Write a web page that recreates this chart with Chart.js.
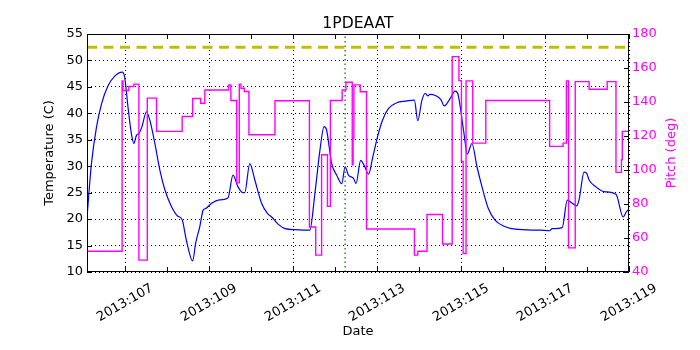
<!DOCTYPE html>
<html>
<head>
<meta charset="utf-8">
<script src="https://cdn.jsdelivr.net/npm/chart.js@4"></script>
<style>
  body { margin: 0; background: #fff; }
  #wrap { width: 700px; height: 350px; }
</style>
</head>
<body>
<div id="wrap"><canvas id="pitch_graph" width="700" height="350"></canvas></div>
<script>
// temperature (C) vs day of year 2013
var tempDays = [106.10, 106.20, 106.32, 106.44, 106.60, 106.75, 106.93, 106.99, 107.07, 107.15,
  107.21, 107.27, 107.33, 107.40, 107.51, 107.59, 107.71, 107.83, 107.95, 108.11,
  108.25, 108.36, 108.46, 108.61, 108.68, 108.78, 108.86, 108.92, 109.06, 109.22,
  109.45, 109.57, 109.69, 109.81, 109.85, 109.97, 110.09, 110.25, 110.40, 110.49,
  110.65, 110.81, 111.05, 111.40, 111.52, 111.64, 111.74, 111.80, 111.92, 112.04,
  112.16, 112.24, 112.32, 112.44, 112.50, 112.61, 112.69, 112.80, 112.89, 113.01,
  113.13, 113.27, 113.47, 113.67, 113.89, 113.97, 114.07, 114.15, 114.21, 114.26,
  114.52, 114.60, 114.74, 114.86, 114.92, 115.06, 115.15, 115.26, 115.38, 115.50,
  115.65, 115.81, 116.01, 116.29, 116.89, 117.11, 117.17, 117.41, 117.53, 117.65,
  117.75, 117.81, 117.93, 117.99, 118.05, 118.21, 118.41, 118.69, 118.86, 118.94, 119.00];
var temps = [21.0, 30.5, 37.4, 41.8, 45.3, 47.0, 47.8, 46.9, 41.2, 36.2,
  34.3, 35.8, 36.2, 37.4, 40.3, 38.7, 34.3, 29.2, 25.5, 22.3,
  20.6, 19.9, 16.0, 12.1, 15.4, 18.6, 21.7, 22.0, 23.0, 23.6,
  24.0, 28.3, 26.1, 25.0, 25.0, 30.5, 27.4, 23.0, 21.0, 20.4,
  19.0, 18.2, 18.0, 17.9, 24.8, 33.0, 37.5, 36.8, 30.5, 28.3,
  26.7, 29.9, 28.3, 27.7, 26.7, 31.1, 30.2, 28.5, 31.4, 35.5,
  38.7, 40.9, 42.0, 42.3, 42.5, 38.6, 42.5, 43.8, 43.3, 43.6,
  42.6, 41.4, 42.8, 44.2, 43.8, 36.8, 32.3, 34.3, 29.9, 26.1,
  22.0, 19.8, 18.7, 18.1, 17.9, 17.8, 18.2, 18.4, 23.6, 23.0,
  22.5, 23.6, 28.9, 28.7, 27.4, 26.1, 25.2, 24.7, 20.4, 21.4, 21.9];

// pitch (deg), each value holds until the next day entry
var pitchDays = [106.094, 106.93, 106.95, 107.09, 107.21, 107.33, 107.53, 107.75,
  108.36, 108.61, 108.80, 108.90, 109.47, 109.52, 109.66, 109.72, 109.76, 109.84, 109.95,
  110.57, 111.39, 111.54, 111.68, 111.82, 111.89, 112.17, 112.26, 112.41, 112.43, 112.45,
  112.60, 112.75, 113.89, 113.97, 114.19, 114.56,
  114.79, 114.95, 115.01, 115.05, 115.12, 115.28, 115.59,
  117.11, 117.43, 117.51, 117.56, 117.72, 118.05, 118.48, 118.69, 118.82, 118.84, 119.0];
var pitches = [52.2, 152.4, 146.8, 149.1, 150.5, 47.0, 142.3, 122.7,
  131.5, 142.1, 139.3, 147.1, 150.1, 140.9, 92.4, 150.5, 148.1, 146.2, 120.7,
  140.7, 66.5, 49.9, 109.0, 78.6, 140.9, 147.1, 151.6, 103.1, 118.8, 150.1,
  146.0, 65.3, 49.9, 52.2, 73.8, 56.5,
  166.7, 152.6, 105.1, 50.9, 152.4, 115.8, 140.9,
  113.9, 115.8, 152.4, 54.2, 152.0, 147.5, 152.0, 98.6, 106.0, 122.7, 122.7];

var dayMin = 106.094;
var dayMax = 119;
var tempLimit = 52.5;
var eventDay = 112.24;
var tempTicks = [10, 55, 5];
var pitchTicks = [40, 180, 20];
var titleText = "1PDEAAT";
var pitchLabel = "Pitch (deg)";
var yearPrefix = "2013:";

var FONT = "'DejaVu Sans', sans-serif";

function pairs(xs, ys) {
  var out = [];
  for (var i in xs) out.push({x: xs[i], y: ys[i]});
  return out;
}

// frame, inward ticks, title and rotated date labels like matplotlib
var decor = {
  id: 'decor',
  afterDatasetsDraw: function(chart) {
    var ctx = chart.ctx, a = chart.chartArea;
    var xs = chart.scales.x, yl = chart.scales.y, yr = chart.scales.y2;
    var tl = 5;
    ctx.save();
    ctx.strokeStyle = '#000';
    ctx.lineWidth = 1;
    ctx.strokeRect(Math.round(a.left) + 0.5, Math.round(a.top) + 0.5,
      Math.round(a.right - a.left) - 1, Math.round(a.bottom - a.top) - 1);
    ctx.beginPath();
    xs.ticks.forEach(function(t) {
      var px = Math.round(xs.getPixelForValue(t.value)) + 0.5;
      ctx.moveTo(px, a.bottom); ctx.lineTo(px, a.bottom - tl);
      ctx.moveTo(px, a.top); ctx.lineTo(px, a.top + tl);
    });
    yl.ticks.forEach(function(t) {
      var py = Math.round(yl.getPixelForValue(t.value)) + 0.5;
      ctx.moveTo(a.left, py); ctx.lineTo(a.left + tl, py);
    });
    yr.ticks.forEach(function(t) {
      var py = Math.round(yr.getPixelForValue(t.value)) + 0.5;
      ctx.moveTo(a.right, py); ctx.lineTo(a.right - tl, py);
    });
    ctx.stroke();
    ctx.restore();
  },
  afterDraw: function(chart) {
    var ctx = chart.ctx, a = chart.chartArea;
    var xs = chart.scales.x;
    ctx.save();
    ctx.fillStyle = '#000';
    ctx.font = '15.6px ' + FONT;
    ctx.textAlign = 'center';
    ctx.textBaseline = 'alphabetic';
    ctx.fillText(titleText, (a.left + a.right) / 2, 28);
    ctx.font = '13px ' + FONT;
    ctx.textBaseline = 'middle';
    xs.ticks.forEach(function(t) {
      if (Math.round(t.value) % 2 !== 1) return;
      ctx.save();
      ctx.translate(xs.getPixelForValue(t.value), a.bottom + 31);
      ctx.rotate(-Math.PI / 6);
      ctx.fillText(yearPrefix + Math.round(t.value), 0, 0);
      ctx.restore();
    });
    // right axis label reads bottom to top
    ctx.save();
    ctx.fillStyle = '#ff00ff';
    ctx.translate(a.right + 43, (a.top + a.bottom) / 2);
    ctx.rotate(-Math.PI / 2);
    ctx.fillText(pitchLabel, 0, 0);
    ctx.restore();
    ctx.restore();
  }
};

var chartdata = {
  datasets: [
    {
      label: "Pitch",
      yAxisID: 'y2',
      data: pairs(pitchDays, pitches),
      stepped: 'before',
      borderColor: "#ff00ff",
      borderWidth: 1.4,
      pointRadius: 0,
      fill: false,
      order: 0
    },
    {
      label: "Temperature",
      yAxisID: 'y',
      data: pairs(tempDays, temps),
      borderColor: "#0000ff",
      borderWidth: 1.2,
      cubicInterpolationMode: 'monotone',
      pointRadius: 0,
      fill: false,
      order: 1
    },
    {
      label: "Limit",
      yAxisID: 'y',
      data: [{x: dayMin, y: tempLimit}, {x: dayMax, y: tempLimit}],
      borderColor: "rgb(191,191,0)",
      borderWidth: 3,
      borderDash: [10, 6.5],
      pointRadius: 0,
      fill: false,
      order: 2
    },
    {
      label: "Event",
      yAxisID: 'y',
      data: [{x: eventDay, y: tempTicks[0]}, {x: eventDay, y: tempTicks[1]}],
      borderColor: "rgb(0,128,0)",
      borderWidth: 1.3,
      borderDash: [1.5, 3],
      pointRadius: 0,
      fill: false,
      order: 3
    }
  ]
};

var ctx = document.getElementById('pitch_graph');

var PitchGraph = new Chart(ctx, {
  type: 'line',
  data: chartdata,
  plugins: [decor],
  options: {
    responsive: false,
    animation: false,
    devicePixelRatio: 1,
    layout: { padding: { top: 34, left: 0, right: 0, bottom: 0 } },
    plugins: { legend: { display: false }, tooltip: { enabled: false }, title: { display: false } },
    scales: {
      x: {
        type: 'linear',
        min: dayMin,
        max: dayMax,
        afterFit: function(s) { s.height = 78; },
        ticks: { display: false, stepSize: 1, autoSkip: false, includeBounds: false },
        grid: {
          drawTicks: false,
          lineWidth: 1,
          color: function(c) {
            return c.tick && Math.round(c.tick.value) % 2 === 1 ? '#000' : 'rgba(0,0,0,0)';
          }
        },
        border: { display: false, dash: [1, 3] },
        title: { display: true, text: 'Date', color: '#000', font: { family: FONT, size: 13 }, padding: { top: 0, bottom: 11 } }
      },
      y: {
        position: 'left',
        min: tempTicks[0],
        max: tempTicks[1],
        afterFit: function(s) { s.width = 87; },
        ticks: { stepSize: tempTicks[2], padding: 4, color: '#000', font: { family: FONT, size: 13 } },
        grid: { drawTicks: false, color: '#000', lineWidth: 1 },
        border: { display: false, dash: [1, 3] },
        title: { display: true, text: 'Temperature (C)', color: '#000', font: { family: FONT, size: 13 }, padding: { top: 42, bottom: 0 } }
      },
      y2: {
        position: 'right',
        min: pitchTicks[0],
        max: pitchTicks[1],
        afterFit: function(s) { s.width = 71; },
        ticks: { stepSize: pitchTicks[2], padding: 3, color: '#ff00ff', font: { family: FONT, size: 13 } },
        grid: { display: false, drawTicks: false },
        border: { display: false },
        title: { display: false }
      }
    }
  }
});
</script>
</body>
</html>
